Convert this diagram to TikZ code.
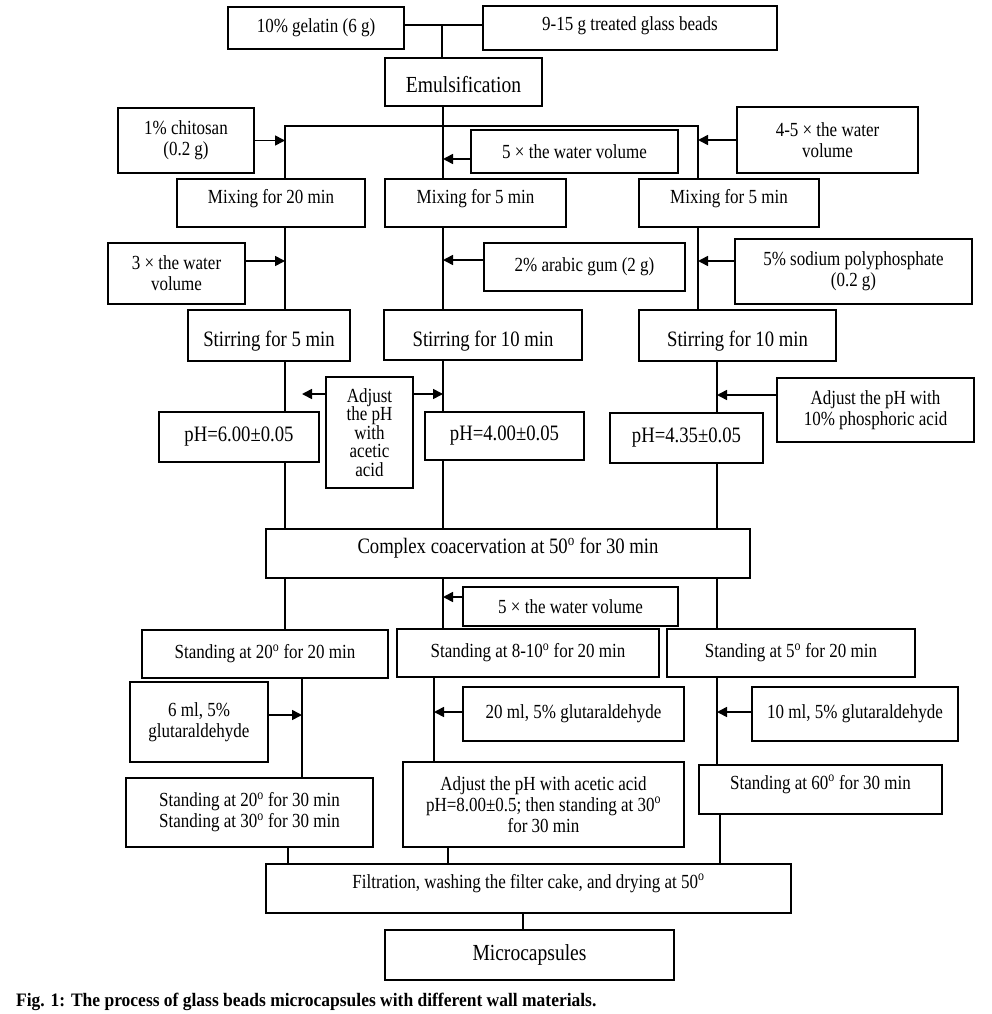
\documentclass[tikz,border=0pt]{standalone}
\usepackage{fontspec}
\setmainfont{Liberation Serif}[FakeStretch=0.85]
\newfontfamily\capfont{Liberation Serif}[FakeStretch=0.92]
\usetikzlibrary{arrows.meta}
\newcommand\dgr{\textsuperscript{o}}
\begin{document}
\begin{tikzpicture}[x=1pt,y=-1pt,
 box/.style={draw, line width=1.8pt, inner sep=0pt, align=center, font=\fontsize{20}{21}\selectfont},
 up/.style={text height=14pt, text depth=14pt},
 slightup/.style={text height=14pt, text depth=9pt},
 down/.style={text height=26pt, text depth=4pt},
 big/.style={font=\fontsize{23}{24}\selectfont},
 mid/.style={font=\fontsize{22}{23}\selectfont},
 conn/.style={line width=1.4pt},
 arr/.style={line width=1.6pt, -{Triangle[length=10pt,width=10pt]}}]
\useasboundingbox (0,0) rectangle (992,1014);

% column coordinates
\coordinate (cL) at (285,0);
\coordinate (cM) at (443,0);
\coordinate (cR) at (698,0);
\coordinate (cR2) at (717,0);
\coordinate (c5L) at (302,0);
\coordinate (c5M) at (434,0);
\coordinate (b1) at (288,0);
\coordinate (b2) at (448,0);
\coordinate (b3) at (720,0);
\coordinate (b4) at (523,0);

% boxes
\node[box] (gel) at (316,28) [minimum width=176pt, minimum height=42pt] {10\% gelatin (6 g)};
\node[box, slightup] (beads) at (630,28) [minimum width=294pt, minimum height=44pt] {9-15 g treated glass beads};
\node[box, big, down] (emul) at (463.5,82) [minimum width=157pt, minimum height=48pt] {Emulsification};
\node[box] (chit) at (186,140.5) [minimum width=136pt, minimum height=65pt] {1\% chitosan\\(0.2 g)};
\node[box] (w5a) at (574.5,151.5) [minimum width=207pt, minimum height=43pt] {5 × the water volume};
\node[box] (w45) at (827.5,140) [minimum width=181pt, minimum height=66pt] {4-5 × the water\\volume};
\node[box, up] (mix20) at (271,203) [minimum width=188pt, minimum height=48pt] {Mixing for 20 min};
\node[box, up] (mix5a) at (475.5,203) [minimum width=181pt, minimum height=48pt] {Mixing for 5 min};
\node[box, up] (mix5b) at (729,203) [minimum width=180pt, minimum height=48pt] {Mixing for 5 min};
\node[box] (w3) at (176.5,273.5) [minimum width=137pt, minimum height=61pt] {3 × the water\\volume};
\node[box] (gum) at (584.5,267) [minimum width=201pt, minimum height=48pt] {2\% arabic gum (2 g)};
\node[box] (sodium) at (853.5,271.5) [minimum width=237pt, minimum height=65pt] {5\% sodium polyphosphate\\(0.2 g)};
\node[box, mid, down] (stir5) at (269,335.5) [minimum width=162pt, minimum height=51pt] {Stirring for 5 min};
\node[box, mid, down] (stir10a) at (483,335) [minimum width=198pt, minimum height=50pt] {Stirring for 10 min};
\node[box, mid, down] (stir10b) at (737.5,335.5) [minimum width=197pt, minimum height=51pt] {Stirring for 10 min};
\node[box, font=\fontsize{20}{18.5}\selectfont] (acet) at (369.5,432.5) [minimum width=87pt, minimum height=111pt] {Adjust\\the pH\\with\\acetic\\acid};
\node[box] (phos) at (875.5,410) [minimum width=197pt, minimum height=64pt] {Adjust the pH with\\10\% phosphoric acid};
\node[box, mid] (ph6) at (239,437) [minimum width=160pt, minimum height=50pt] {pH=6.00±0.05};
\node[box, mid] (ph4) at (504.5,436) [minimum width=159pt, minimum height=48pt] {pH=4.00±0.05};
\node[box, mid] (ph435) at (686.5,438) [minimum width=153pt, minimum height=50pt] {pH=4.35±0.05};
\node[box, mid, up] (complex) at (508,553.5) [minimum width=484pt, minimum height=49pt] {Complex coacervation at 50\dgr{} for 30 min};
\node[box] (w5b) at (570.5,606.5) [minimum width=215pt, minimum height=39pt] {5 × the water volume};
\node[box] (st20) at (265,654) [minimum width=246pt, minimum height=48pt] {Standing at 20\dgr{} for 20 min};
\node[box] (st810) at (528,653) [minimum width=262pt, minimum height=48pt] {Standing at 8-10\dgr{} for 20 min};
\node[box] (st5) at (791,653) [minimum width=248pt, minimum height=48pt] {Standing at 5\dgr{} for 20 min};
\node[box] (glu6) at (199,722) [minimum width=138pt, minimum height=80pt] {6 ml, 5\%\\glutaraldehyde};
\node[box] (glu20) at (573.5,714) [minimum width=221pt, minimum height=54pt] {20 ml, 5\% glutaraldehyde};
\node[box] (glu10) at (855,714) [minimum width=206pt, minimum height=54pt] {10 ml, 5\% glutaraldehyde};
\node[box] (st2030) at (249.5,812.5) [minimum width=247pt, minimum height=69pt] {Standing at 20\dgr{} for 30 min\\Standing at 30\dgr{} for 30 min};
\node[box] (adjph) at (543.5,804.5) [minimum width=281pt, minimum height=85pt] {Adjust the pH with acetic acid\\pH=8.00±0.5; then standing at 30\dgr\\for 30 min};
\node[box, up] (st60) at (820.5,789.5) [minimum width=243pt, minimum height=49pt] {Standing at 60\dgr{} for 30 min};
\node[box, up] (filt) at (528.5,888.5) [minimum width=525pt, minimum height=49pt] {Filtration, washing the filter cake, and drying at 50\dgr};
\node[box, big] (micro) at (529.5,955) [minimum width=289pt, minimum height=50pt] {Microcapsules};
\node[anchor=west, inner sep=0pt, font=\capfont\fontsize{19}{21}\selectfont\bfseries] (cap) at (16,1002) {Fig. 1: The process of glass beads microcapsules with different wall materials.};

% top connectors
\coordinate (j0) at (442,25);
\draw[conn] (gel.east |- j0) -- (beads.west |- j0);
\draw[conn] (j0) -- (j0 |- emul.north);
\draw[conn] (emul.south -| cM) -- (mix5a.north -| cM);
\coordinate (tL) at (285,126);
\coordinate (tR) at (698,126);
\draw[conn] (mix20.north -| tL) -- (tL) -- (tR) -- (mix5b.north -| tR);
\draw[arr] (chit.east) -- (chit.east -| tL);
\coordinate (a5) at ([yshift=-7.5pt]w5a.west);
\draw[arr] (a5) -- (a5 -| cM);
\draw[arr] (w45.west) -- (w45.west -| tR);

% second row
\draw[conn] (mix20.south -| cL) -- (stir5.north -| cL);
\draw[conn] (mix5a.south -| cM) -- (stir10a.north -| cM);
\draw[conn] (mix5b.south -| cR) -- (stir10b.north -| cR);
\coordinate (a3) at ([yshift=12.5pt]w3.east);
\draw[arr] (a3) -- (a3 -| cL);
\coordinate (ag) at ([yshift=7pt]gum.west);
\draw[arr] (ag) -- (ag -| cM);
\coordinate (as) at ([yshift=10.5pt]sodium.west);
\draw[arr] (as) -- (as -| cR);

% third row
\draw[conn] (stir5.south -| cL) -- (ph6.north -| cL);
\draw[conn] (ph6.south -| cL) -- (complex.north -| cL);
\draw[conn] (stir10a.south -| cM) -- (ph4.north -| cM);
\draw[conn] (ph4.south -| cM) -- (complex.north -| cM);
\draw[conn] (stir10b.south -| cR2) -- (ph435.north -| cR2);
\draw[conn] (ph435.south -| cR2) -- (complex.north -| cR2);
\coordinate (aa) at ([yshift=38.5pt]acet.west);
\coordinate (aaL) at (302,394);
\draw[arr] (aa) -- (aaL);
\coordinate (ab) at ([yshift=38.5pt]acet.east);
\draw[arr] (ab) -- (ab -| cM);
\coordinate (ap) at ([yshift=15pt]phos.west);
\draw[arr] (ap) -- (ap -| cR2);

% fourth row
\draw[conn] (complex.south -| cL) -- (st20.north -| cL);
\draw[conn] (complex.south -| cM) -- (st810.north -| cM);
\draw[conn] (complex.south -| cR2) -- (st5.north -| cR2);
\coordinate (aw) at ([yshift=9.5pt]w5b.west);
\draw[arr] (aw) -- (aw -| cM);

% fifth row
\draw[conn] (st20.south -| c5L) -- (st2030.north -| c5L);
\draw[conn] (st810.south -| c5M) -- (adjph.north -| c5M);
\draw[conn] (st5.south -| cR2) -- (st60.north -| cR2);
\coordinate (g6) at ([yshift=7pt]glu6.east);
\draw[arr] (g6) -- (g6 -| c5L);
\coordinate (g20) at ([yshift=2pt]glu20.west);
\draw[arr] (g20) -- (g20 -| c5M);
\coordinate (g10) at ([yshift=2pt]glu10.west);
\draw[arr] (g10) -- (g10 -| cR2);

% bottom
\draw[conn] (st2030.south -| b1) -- (filt.north -| b1);
\draw[conn] (adjph.south -| b2) -- (filt.north -| b2);
\draw[conn] (st60.south -| b3) -- (filt.north -| b3);
\draw[conn] (filt.south -| b4) -- (micro.north -| b4);
\end{tikzpicture}
\end{document}
